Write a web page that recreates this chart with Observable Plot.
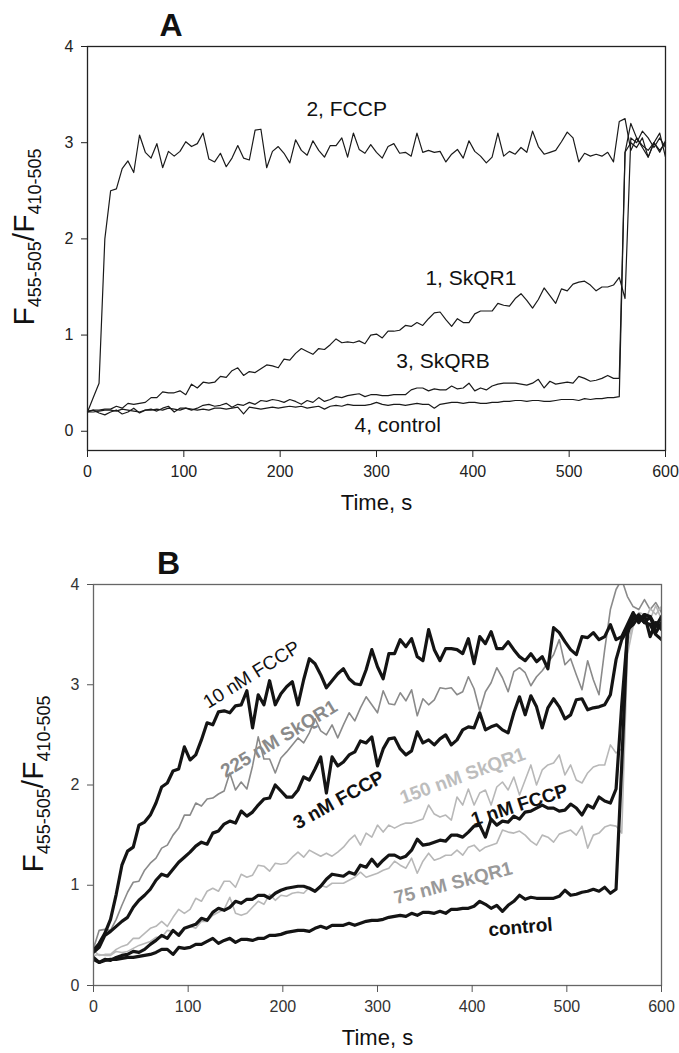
<!DOCTYPE html>
<html>
<head>
<meta charset="utf-8">
<script src="https://cdn.jsdelivr.net/npm/d3@7"></script>
<script src="https://cdn.jsdelivr.net/npm/@observablehq/plot@0.6"></script>
<style>
  html, body { margin: 0; padding: 0; background: #fff; }
  svg { display: block; }
</style>
</head>
<body>
<div id="a"></div>
<div id="b"></div>
<script>
// ---------- shared ----------
const xTicks = [0, 100, 200, 300, 400, 500, 600];
const yTicks = [0, 1, 2, 3, 4];
const times = d3.range(0, 601, 6); // sampling grid, 6 s

// ---------- Panel A data ----------
const aFCCP = [0.2,0.35,0.5,2.0,2.5,2.52,2.73,2.81,2.69,3.08,
  2.9,2.84,2.99,2.74,2.91,2.86,2.91,3.01,2.96,2.99,
  3.1,2.83,2.8,2.89,2.75,2.84,2.97,2.84,2.82,3.13,
  3.14,2.74,2.91,2.96,2.89,2.79,3.03,2.92,2.87,3.02,
  2.92,2.85,2.97,2.97,3.05,2.85,3.1,2.93,2.89,2.98,
  2.9,2.84,2.96,2.99,2.89,2.9,2.86,3.1,2.9,2.92,
  2.9,2.91,2.8,2.88,2.93,2.84,3.02,2.91,2.86,2.79,
  2.85,3.1,2.86,2.91,2.88,2.95,2.9,3.12,2.96,2.88,
  2.9,2.92,3.01,3.11,3.05,2.8,2.89,2.86,2.88,2.86,
  2.9,2.8,3.22,3.25,2.92,3.05,2.97,2.92,3.0,3.1,
  2.85];
const aSkQR1 = [0.21,0.22,0.22,0.23,0.23,0.26,0.24,0.29,0.28,0.29,
  0.3,0.35,0.35,0.41,0.4,0.4,0.42,0.38,0.49,0.45,
  0.51,0.5,0.51,0.57,0.56,0.63,0.66,0.58,0.62,0.61,
  0.65,0.69,0.68,0.66,0.75,0.74,0.81,0.86,0.83,0.8,
  0.86,0.85,0.9,0.96,0.92,0.93,0.92,0.94,0.91,1.0,
  1.01,0.97,1.04,1.04,1.05,1.1,1.09,1.13,1.1,1.17,
  1.23,1.24,1.16,1.09,1.17,1.13,1.13,1.22,1.25,1.25,
  1.25,1.33,1.31,1.3,1.38,1.43,1.36,1.28,1.37,1.49,
  1.41,1.33,1.48,1.46,1.53,1.55,1.56,1.52,1.46,1.5,
  1.5,1.52,1.6,1.38,3.05,3.0,3.12,3.05,2.95,3.05,
  2.95];
const aSkQRB = [0.2,0.22,0.19,0.17,0.2,0.22,0.18,0.2,0.24,0.19,
  0.22,0.23,0.21,0.24,0.26,0.2,0.24,0.24,0.22,0.24,
  0.27,0.28,0.26,0.27,0.29,0.25,0.28,0.27,0.3,0.28,
  0.32,0.31,0.33,0.32,0.3,0.33,0.31,0.28,0.32,0.3,
  0.35,0.31,0.33,0.36,0.35,0.37,0.38,0.39,0.36,0.38,
  0.38,0.37,0.37,0.38,0.38,0.38,0.43,0.45,0.45,0.42,
  0.44,0.43,0.43,0.47,0.44,0.45,0.5,0.42,0.45,0.43,
  0.47,0.49,0.5,0.5,0.5,0.49,0.48,0.5,0.54,0.45,
  0.52,0.49,0.5,0.51,0.5,0.57,0.55,0.52,0.53,0.55,
  0.58,0.55,0.55,2.9,3.0,2.95,3.05,2.85,3.0,2.92,
  3.0];
const aControl = [0.2,0.2,0.21,0.22,0.22,0.21,0.23,0.22,0.21,0.2,
  0.22,0.22,0.23,0.22,0.24,0.23,0.22,0.24,0.23,0.22,
  0.23,0.22,0.24,0.24,0.23,0.24,0.25,0.18,0.25,0.24,
  0.23,0.24,0.25,0.24,0.25,0.26,0.25,0.26,0.24,0.25,
  0.26,0.23,0.26,0.27,0.26,0.28,0.27,0.27,0.27,0.28,
  0.3,0.28,0.27,0.28,0.28,0.27,0.28,0.29,0.28,0.28,
  0.24,0.28,0.29,0.3,0.3,0.29,0.3,0.3,0.29,0.29,
  0.3,0.3,0.31,0.31,0.32,0.32,0.31,0.32,0.32,0.31,
  0.31,0.32,0.33,0.33,0.33,0.32,0.34,0.33,0.34,0.34,
  0.35,0.35,0.36,2.9,3.2,3.05,2.95,2.85,3.0,2.9,
  3.02];
const aSeries = [
  {name: "2, FCCP", values: aFCCP},
  {name: "1, SkQR1", values: aSkQR1},
  {name: "3, SkQRB", values: aSkQRB},
  {name: "4, control", values: aControl}
];
const aLabels = [
  {text: "2, FCCP", t: 269, v: 3.35},
  {text: "1, SkQR1", t: 398, v: 1.59},
  {text: "3, SkQRB", t: 369, v: 0.73},
  {text: "4, control", t: 322, v: 0.06}
];

// ---------- Panel B data ----------
const b10nM = [0.35,0.42,0.52,0.66,0.91,1.2,1.34,1.38,1.6,1.63,
  1.7,1.82,1.98,2.02,2.14,2.16,2.38,2.25,2.3,2.45,
  2.62,2.6,2.73,2.74,2.72,2.79,2.8,2.94,2.57,2.9,
  2.8,3.04,2.8,2.91,2.98,3.03,2.8,3.05,3.26,3.21,
  3.1,2.97,3.04,3.11,3.16,3.06,3.01,3.0,3.15,3.35,
  3.18,3.06,3.31,3.31,3.45,3.38,3.46,3.28,3.24,3.55,
  3.35,3.24,3.36,3.36,3.35,3.31,3.46,3.21,3.48,3.41,
  3.53,3.36,3.36,3.43,3.35,3.28,3.24,3.31,3.23,3.28,
  3.16,3.57,3.52,3.43,3.35,3.3,3.48,3.47,3.52,3.45,
  3.48,3.6,3.45,3.48,3.6,3.72,3.62,3.7,3.48,3.62,
  3.55];
const b225 = [0.37,0.55,0.56,0.55,0.66,0.8,0.93,1.03,1.04,1.15,
  1.22,1.27,1.37,1.4,1.5,1.57,1.7,1.7,1.82,1.79,
  1.86,1.87,1.91,1.94,2.12,1.95,2.03,1.96,2.19,2.48,
  2.26,2.26,2.12,2.27,2.33,2.4,2.47,2.42,2.52,2.66,
  2.54,2.5,2.6,2.47,2.6,2.72,2.64,2.77,2.88,2.8,
  2.72,2.94,2.81,2.8,2.92,2.84,2.95,2.69,2.86,2.8,
  2.85,2.97,2.96,2.97,2.9,2.93,3.08,2.96,2.74,2.93,
  3.02,3.17,3.07,2.93,3.13,3.17,3.12,2.99,3.08,3.14,
  3.22,3.3,3.45,3.2,3.26,3.1,2.95,3.24,3.05,2.9,
  3.35,3.75,3.95,4.05,3.88,3.78,3.75,3.85,3.75,3.82,
  3.72];
const b3nM = [0.33,0.38,0.5,0.54,0.59,0.64,0.68,0.78,0.85,0.9,
  0.96,1.05,1.11,1.09,1.16,1.23,1.28,1.33,1.39,1.43,
  1.41,1.52,1.54,1.61,1.64,1.62,1.74,1.69,1.73,1.8,
  1.86,1.87,2.0,1.94,1.88,1.88,1.95,2.08,2.05,2.16,
  2.28,1.92,2.28,2.19,2.23,2.3,2.33,2.44,2.42,2.48,
  2.19,2.36,2.46,2.47,2.36,2.3,2.34,2.53,2.42,2.45,
  2.4,2.46,2.5,2.4,2.45,2.55,2.58,2.57,2.72,2.55,
  2.58,2.6,2.55,2.52,2.72,2.88,2.7,2.89,2.78,2.57,
  2.77,2.86,2.78,2.66,2.7,2.85,2.86,2.75,2.77,2.78,
  2.8,2.9,3.25,3.45,3.55,3.6,3.68,3.62,3.68,3.52,
  3.62];
const b150 = [0.35,0.3,0.31,0.31,0.36,0.39,0.41,0.47,0.47,0.52,
  0.57,0.59,0.64,0.59,0.68,0.76,0.72,0.76,0.87,0.84,
  0.94,0.97,0.94,1.04,1.04,0.98,1.11,1.08,1.1,1.2,
  1.19,1.14,1.22,1.21,1.22,1.28,1.33,1.28,1.35,1.32,
  1.29,1.32,1.29,1.33,1.38,1.45,1.5,1.4,1.52,1.48,
  1.6,1.53,1.6,1.57,1.6,1.62,1.62,1.64,1.66,1.8,
  1.71,1.68,1.7,1.65,1.88,1.8,1.96,1.8,1.92,1.95,
  1.8,1.98,2.03,1.95,2.08,1.9,2.05,2.2,2.0,2.15,
  2.2,2.22,2.3,2.1,2.2,2.05,2.02,2.12,2.18,2.2,
  2.2,2.4,2.32,2.36,3.4,3.62,3.72,3.7,3.65,3.79,
  3.65];
const b1nM = [0.28,0.23,0.26,0.25,0.28,0.3,0.31,0.34,0.33,0.36,
  0.41,0.45,0.5,0.47,0.55,0.5,0.57,0.59,0.61,0.67,
  0.65,0.73,0.77,0.75,0.78,0.84,0.82,0.86,0.86,0.9,
  0.9,0.87,0.92,0.95,0.97,0.98,0.99,0.99,0.97,0.94,
  0.99,1.06,1.11,1.1,1.09,1.13,1.11,1.2,1.18,1.26,
  1.19,1.25,1.3,1.3,1.27,1.29,1.35,1.46,1.4,1.41,
  1.43,1.45,1.44,1.5,1.5,1.48,1.53,1.59,1.6,1.48,
  1.66,1.6,1.64,1.63,1.69,1.66,1.73,1.74,1.77,1.8,
  1.77,1.77,1.74,1.75,1.81,1.77,1.7,1.8,1.77,1.88,
  1.84,1.82,1.96,2.8,3.5,3.7,3.65,3.7,3.68,3.58,
  3.68];
const b75 = [0.3,0.31,0.3,0.3,0.34,0.33,0.34,0.37,0.4,0.42,
  0.44,0.48,0.48,0.55,0.54,0.52,0.57,0.59,0.57,0.64,
  0.64,0.7,0.73,0.76,0.88,0.72,0.7,0.72,0.78,0.84,
  0.81,0.91,0.85,0.9,0.89,0.92,0.93,0.92,0.98,0.94,
  1.0,0.98,1.02,1.02,1.02,1.05,1.08,1.13,1.08,1.1,
  1.12,1.15,1.17,1.24,1.2,1.17,1.27,1.12,1.24,1.32,
  1.25,1.27,1.3,1.3,1.35,1.3,1.38,1.4,1.34,1.38,
  1.4,1.42,1.55,1.53,1.52,1.54,1.5,1.44,1.4,1.5,
  1.48,1.43,1.51,1.53,1.55,1.5,1.59,1.37,1.5,1.52,
  1.58,1.6,1.59,1.52,3.3,3.58,3.7,3.62,3.76,3.7,
  3.78];
const bControl = [0.26,0.23,0.25,0.26,0.26,0.27,0.28,0.28,0.29,0.3,
  0.31,0.33,0.36,0.36,0.31,0.38,0.37,0.38,0.41,0.41,
  0.44,0.47,0.42,0.45,0.47,0.43,0.46,0.46,0.45,0.47,
  0.47,0.5,0.5,0.51,0.53,0.54,0.55,0.55,0.54,0.57,
  0.59,0.57,0.6,0.6,0.6,0.62,0.6,0.62,0.64,0.65,
  0.65,0.66,0.68,0.69,0.7,0.69,0.72,0.7,0.73,0.73,
  0.72,0.74,0.72,0.76,0.76,0.77,0.77,0.79,0.84,0.81,
  0.77,0.8,0.74,0.8,0.84,0.9,0.86,0.88,0.87,0.87,
  0.87,0.87,0.89,0.95,0.9,0.91,0.93,0.94,0.96,0.94,
  0.98,0.92,0.96,2.2,3.55,3.65,3.7,3.62,3.6,3.5,
  3.45];
// thin grey series first, thick black on top
const bGrey = [
  {name: "225 nM SkQR1", values: b225, color: "#8a8a8a"},
  {name: "150 nM SkQR1", values: b150, color: "#b8b8b8"},
  {name: "75 nM SkQR1", values: b75, color: "#b8b8b8"}
];
const bBlack = [
  {name: "10 nM FCCP", values: b10nM},
  {name: "3 nM FCCP", values: b3nM},
  {name: "1 nM FCCP", values: b1nM},
  {name: "control", values: bControl}
];
const bLabelsNormal = [
  {text: "10 nM FCCP", t: 167, v: 3.1, angle: -32, color: "#111"}
];
const bLabelsBold = [
  {text: "225 nM SkQR1", t: 196, v: 2.46, angle: -31, color: "#8a8a8a"},
  {text: "3 nM FCCP", t: 259, v: 1.85, angle: -29, color: "#111"},
  {text: "150 nM SkQR1", t: 390, v: 2.09, angle: -20, color: "#bdbdbd"},
  {text: "1 nM FCCP", t: 450, v: 1.8, angle: -17.5, color: "#111"},
  {text: "75 nM SkQR1", t: 380, v: 1.02, angle: -14.5, color: "#999"},
  {text: "control", t: 451, v: 0.58, angle: -5, color: "#111"}
];

const toRows = (list) => list.flatMap(s => s.values.map((v, i) => ({series: s.name, t: times[i], v, color: s.color})));

const FONT = "'Liberation Sans', Arial, Helvetica, sans-serif";
const intFmt = d => String(d);

function yTitle(svg, x, y) {
  const t = d3.select(svg).append("text")
    .attr("transform", `translate(${x},${y}) rotate(-90)`)
    .attr("text-anchor", "middle")
    .attr("font-family", FONT)
    .attr("font-size", 30)
    .attr("fill", "#111");
  t.append("tspan").text("F");
  t.append("tspan").attr("font-size", 18).attr("dy", 7).text("455-505");
  t.append("tspan").attr("dy", -7).text("/F");
  t.append("tspan").attr("font-size", 18).attr("dy", 7).text("410-505");
}

// ---------- Panel A ----------
const plotA = Plot.plot({
  width: 679, height: 520,
  marginTop: 46, marginBottom: 70, marginLeft: 87, marginRight: 14,
  style: {fontFamily: FONT, fontSize: "16px", color: "#222", background: "#fff"},
  x: {domain: [0, 600]},
  y: {domain: [-0.2, 4]},
  marks: [
    Plot.line(toRows(aSeries), {x: "t", y: "v", z: "series", stroke: "#1a1a1a", strokeWidth: 1.2}),
    Plot.frame({stroke: "#222", strokeWidth: 1.3}),
    Plot.axisX({ticks: xTicks, tickFormat: intFmt, tickSize: 7, tickPadding: 8, label: null}),
    Plot.axisY({ticks: yTicks, tickFormat: intFmt, tickSize: 6, tickPadding: 8, label: null}),
    Plot.text(aLabels, {x: "t", y: "v", text: "text", fontSize: 21, fill: "#111", lineAnchor: "middle"}),
    Plot.text(["A"], {text: d => d, frameAnchor: "top-left", dx: 83.5, dy: -21, fontSize: 32, fontWeight: "bold", textAnchor: "middle", lineAnchor: "middle", fill: "#111"}),
    Plot.text(["Time, s"], {text: d => d, frameAnchor: "bottom", dy: 52, fontSize: 22, lineAnchor: "middle", fill: "#111"})
  ]
});
yTitle(plotA, 34, 237);
document.getElementById("a").appendChild(plotA);

// ---------- Panel B ----------
const plotB = Plot.plot({
  width: 679, height: 533,
  marginTop: 64, marginBottom: 68, marginLeft: 93, marginRight: 18,
  style: {fontFamily: FONT, fontSize: "16px", color: "#333", background: "#fff"},
  x: {domain: [0, 600]},
  y: {domain: [0, 4]},
  marks: [
    Plot.line(toRows(bGrey), {x: "t", y: "v", z: "series", stroke: "color", strokeWidth: 1.6, clip: true}),
    Plot.line(toRows(bBlack), {x: "t", y: "v", z: "series", stroke: "#141414", strokeWidth: 3.2, clip: true}),
    Plot.frame({stroke: "#666", strokeWidth: 1.3}),
    Plot.axisX({ticks: xTicks, tickFormat: intFmt, tickSize: 7, tickPadding: 8, label: null, stroke: "#555"}),
    Plot.axisY({ticks: yTicks, tickFormat: intFmt, tickSize: 6, tickPadding: 8, label: null, stroke: "#555"}),
    Plot.text(bLabelsNormal, {x: "t", y: "v", text: "text", rotate: "angle", fill: "color", fontSize: 19, lineAnchor: "middle"}),
    Plot.text(bLabelsBold, {x: "t", y: "v", text: "text", rotate: "angle", fill: "color", fontSize: 19, fontWeight: "bold", lineAnchor: "middle"}),
    Plot.text(["B"], {text: d => d, frameAnchor: "top-left", dx: 75, dy: -21, fontSize: 32, fontWeight: "bold", textAnchor: "middle", lineAnchor: "middle", fill: "#111"}),
    Plot.text(["Time, s"], {text: d => d, frameAnchor: "bottom", dy: 52, fontSize: 22, lineAnchor: "middle", fill: "#111"})
  ]
});
yTitle(plotB, 43, 264);
document.getElementById("b").appendChild(plotB);
</script>
</body>
</html>
